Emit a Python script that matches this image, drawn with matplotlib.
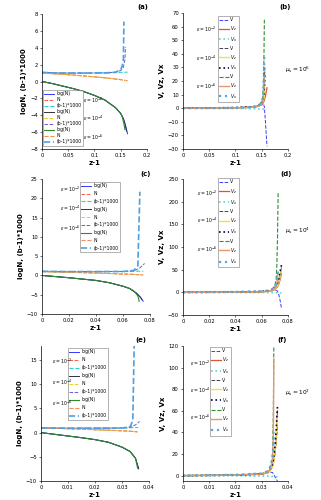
import numpy as np
import matplotlib.pyplot as plt

W, H = 321, 500

# ---------------- data ----------------
eps_labels = ['$\\epsilon=10^{-2}$', '$\\epsilon=10^{-4}$', '$\\epsilon=10^{-6}$']
mu_labels = ['$\\mu_s=10^6$', '$\\mu_s=10^4$', '$\\mu_s=10^2$']

# panel (a)
a_z = [[0, 0.02, 0.04, 0.06, 0.08, 0.10, 0.12, 0.14, 0.15, 0.155, 0.16, 0.163],
       [0, 0.02, 0.04, 0.06, 0.08, 0.10, 0.12, 0.14, 0.15, 0.155, 0.158, 0.161],
       [0, 0.02, 0.04, 0.06, 0.08, 0.10, 0.12, 0.14, 0.15, 0.153, 0.156, 0.158]]
a_logN = [[0, -0.25, -0.55, -0.85, -1.2, -1.65, -2.2, -3.1, -3.8, -4.4, -5.4, -6.2],
          [0, -0.25, -0.55, -0.85, -1.2, -1.65, -2.2, -3.1, -3.8, -4.4, -5.0, -5.9],
          [0, -0.25, -0.55, -0.85, -1.2, -1.65, -2.2, -3.1, -3.8, -4.2, -5.0, -5.7]]
a_N = [[1.0, 0.93, 0.85, 0.76, 0.66, 0.55, 0.43, 0.3, 0.22, 0.17, 0.12, 0.08],
       [1.0, 0.93, 0.85, 0.76, 0.66, 0.55, 0.43, 0.3, 0.22, 0.17, 0.13, 0.09],
       [1.0, 0.93, 0.85, 0.76, 0.66, 0.55, 0.43, 0.3, 0.22, 0.18, 0.14, 0.11]]
a_bz = [[0, 0.02, 0.04, 0.08, 0.12, 0.14, 0.15, 0.155, 0.16, 0.163],
        [0, 0.02, 0.04, 0.08, 0.12, 0.14, 0.15, 0.155, 0.158, 0.159],
        [0, 0.02, 0.04, 0.08, 0.12, 0.14, 0.15, 0.153, 0.155, 0.156]]
a_b = [[1.08, 1.03, 1.0, 1.0, 1.02, 1.05, 1.08, 1.1, 1.1, 1.1],
       [1.08, 1.03, 1.0, 1.0, 1.02, 1.1, 1.3, 1.7, 2.6, 4.1],
       [1.08, 1.03, 1.0, 1.0, 1.02, 1.1, 1.4, 1.9, 2.6, 7.1]]

# panel (c)
c_z = [[0, 0.01, 0.02, 0.03, 0.04, 0.05, 0.06, 0.065, 0.07, 0.073, 0.075],
       [0, 0.01, 0.02, 0.03, 0.04, 0.05, 0.06, 0.065, 0.07, 0.073, 0.074],
       [0, 0.01, 0.02, 0.03, 0.04, 0.05, 0.06, 0.065, 0.068, 0.071, 0.072]]
c_logN = [[0, -0.3, -0.6, -0.95, -1.3, -1.9, -2.8, -3.4, -4.6, -5.7, -6.7],
          [0, -0.3, -0.6, -0.95, -1.3, -1.9, -2.8, -3.4, -4.6, -5.7, -6.3],
          [0, -0.3, -0.6, -0.95, -1.3, -1.9, -2.8, -3.4, -4.0, -5.3, -6.7]]
c_N = [[1.0, 0.9, 0.82, 0.72, 0.62, 0.5, 0.37, 0.3, 0.22, 0.16, 0.12],
       [1.0, 0.9, 0.82, 0.72, 0.62, 0.5, 0.37, 0.3, 0.22, 0.17, 0.13],
       [1.0, 0.9, 0.82, 0.72, 0.62, 0.5, 0.37, 0.3, 0.26, 0.2, 0.16]]
c_bz = [[0, 0.02, 0.04, 0.06, 0.068, 0.072, 0.075],
        [0, 0.02, 0.04, 0.06, 0.068, 0.072, 0.076],
        [0, 0.02, 0.04, 0.06, 0.068, 0.071, 0.0725]]
c_b = [[1.05, 1.0, 1.0, 1.02, 1.05, 1.1, 1.1],
       [1.05, 1.0, 1.0, 1.02, 1.2, 1.8, 3.1],
       [1.05, 1.0, 1.0, 1.02, 1.3, 2.5, 21.7]]

# panel (e)
e_z = [[0, 0.005, 0.01, 0.015, 0.02, 0.025, 0.03, 0.033, 0.035, 0.036],
       [0, 0.005, 0.01, 0.015, 0.02, 0.025, 0.03, 0.033, 0.035, 0.0362],
       [0, 0.005, 0.01, 0.015, 0.02, 0.025, 0.03, 0.033, 0.035, 0.0358]]
e_logN = [[0, -0.35, -0.7, -1.05, -1.45, -2.0, -3.0, -3.9, -5.3, -7.2],
          [0, -0.35, -0.7, -1.05, -1.45, -2.0, -3.0, -3.9, -5.3, -7.5],
          [0, -0.35, -0.7, -1.05, -1.45, -2.0, -3.0, -3.9, -5.3, -7.4]]
e_N = [[1.0, 0.9, 0.8, 0.7, 0.6, 0.5, 0.37, 0.28, 0.2, 0.14],
       [1.0, 0.9, 0.8, 0.7, 0.6, 0.5, 0.37, 0.28, 0.2, 0.13],
       [1.0, 0.9, 0.8, 0.7, 0.6, 0.5, 0.37, 0.28, 0.2, 0.15]]
e_bz = [[0, 0.01, 0.02, 0.03, 0.033, 0.035, 0.036],
        [0, 0.01, 0.02, 0.03, 0.033, 0.035, 0.0365],
        [0, 0.01, 0.02, 0.03, 0.033, 0.034, 0.0345]]
e_b = [[0.95, 0.92, 0.92, 0.95, 1.0, 1.05, 1.05],
       [0.95, 0.92, 0.92, 0.95, 1.1, 1.6, 2.3],
       [0.95, 0.92, 0.92, 0.95, 1.2, 2.5, 18.0]]

# panel (b)
b_z = [[0, 0.05, 0.1, 0.13, 0.14, 0.145, 0.15, 0.153, 0.155, 0.157, 0.16],
       [0, 0.05, 0.1, 0.13, 0.14, 0.145, 0.15, 0.152, 0.154, 0.155, 0.156],
       [0, 0.05, 0.1, 0.13, 0.14, 0.145, 0.15, 0.152, 0.153, 0.154, 0.155]]
b_V = [[0, 0.1, 0.3, 0.8, 1.2, 1.8, 2.5, 3.5, 1.0, -10.0, -28.0],
       [0, 0.1, 0.3, 0.8, 1.3, 2.0, 3.5, 6.0, 11.0, 18.0, 30.0],
       [0, 0.1, 0.3, 0.8, 1.4, 2.3, 5.0, 9.0, 16.0, 32.0, 65.0]]
b_Vz = [[0, 0.1, 0.3, 0.7, 1.1, 1.6, 2.8, 4.0, 6.0, 9.0, 15.0],
        [0, 0.1, 0.3, 0.7, 1.2, 1.8, 3.2, 4.5, 7.0, 12.0, 20.0],
        [0, 0.1, 0.3, 0.7, 1.2, 1.9, 3.5, 5.5, 9.0, 15.0, 24.0]]
b_Vx = [[0, -0.1, -0.2, -0.3, -0.4, -0.5, -0.6, -0.7, -0.8, -0.9, -1.0],
        [0, 0.2, 0.5, 1.0, 1.5, 2.2, 3.8, 6.0, 10.0, 15.0, 25.0],
        [0, 0.05, 0.2, 0.6, 1.2, 2.0, 4.0, 7.0, 12.0, 22.0, 40.0]]

# panel (d)
d_z = [[0, 0.02, 0.04, 0.06, 0.065, 0.068, 0.07, 0.072, 0.073, 0.074, 0.075],
       [0, 0.02, 0.04, 0.06, 0.065, 0.068, 0.07, 0.072, 0.073, 0.074, 0.075],
       [0, 0.02, 0.04, 0.06, 0.065, 0.068, 0.07, 0.071, 0.0715, 0.072, 0.0725]]
d_V = [[0, 0.2, 0.5, 1.5, 2.5, 4.0, 5.0, 3.0, -5.0, -18.0, -35.0],
       [0, 0.2, 0.5, 1.5, 3.0, 5.0, 9.0, 16.0, 25.0, 38.0, 55.0],
       [0, 0.2, 0.5, 1.5, 3.5, 7.0, 15.0, 30.0, 60.0, 120.0, 220.0]]
d_Vz = [[0, 0.2, 0.5, 1.2, 2.0, 3.5, 6.0, 12.0, 18.0, 28.0, 42.0],
        [0, 0.2, 0.5, 1.2, 2.2, 4.0, 7.0, 14.0, 22.0, 34.0, 50.0],
        [0, 0.2, 0.5, 1.2, 2.5, 4.5, 9.0, 14.0, 20.0, 30.0, 45.0]]
d_Vx = [[0, -0.1, -0.2, -0.4, -0.5, -0.6, -0.8, -1.0, -1.1, -1.2, -1.3],
        [0, 0.2, 0.6, 2.0, 3.5, 6.0, 10.0, 20.0, 30.0, 45.0, 60.0],
        [0, 0.3, 1.0, 2.5, 4.0, 7.0, 12.0, 18.0, 25.0, 35.0, 50.0]]

# panel (f)
f_z = [[0, 0.01, 0.02, 0.03, 0.032, 0.033, 0.034, 0.0345, 0.035, 0.0355, 0.036],
       [0, 0.01, 0.02, 0.03, 0.032, 0.033, 0.034, 0.0345, 0.035, 0.0355, 0.036],
       [0, 0.01, 0.02, 0.03, 0.032, 0.033, 0.034, 0.0342, 0.0344, 0.0345, 0.0346]]
f_V = [[0, 0.2, 0.5, 1.5, 2.5, 3.0, 3.0, 1.5, -1.0, -3.0, -5.0],
       [0, 0.2, 0.5, 1.5, 3.0, 5.0, 9.0, 14.0, 20.0, 30.0, 45.0],
       [0, 0.2, 0.5, 1.5, 3.5, 6.0, 15.0, 30.0, 55.0, 85.0, 120.0]]
f_Vz = [[0, 0.2, 0.5, 1.3, 2.5, 4.0, 8.0, 12.0, 20.0, 35.0, 60.0],
        [0, 0.2, 0.5, 1.3, 2.5, 4.0, 8.0, 12.0, 20.0, 35.0, 55.0],
        [0, 0.2, 0.5, 1.3, 2.8, 5.0, 12.0, 20.0, 35.0, 60.0, 108.0]]
f_Vx = [[0, -0.1, -0.2, -0.4, -0.5, -0.6, -0.8, -0.9, -1.0, -1.1, -1.2],
        [0, 0.2, 0.5, 1.5, 3.0, 5.0, 10.0, 16.0, 26.0, 42.0, 65.0],
        [0, 0.3, 0.8, 2.0, 4.0, 7.0, 15.0, 20.0, 27.0, 33.0, 40.0]]

# ---------------- styles ----------------
log_styles = [
    [('-', '#3535ff', 0.7), ('--', '#ff5a3c', 0.7), ('--', '#30d0c8', 0.8)],
    [('-', '#303040', 0.7), ('--', '#e8d020', 0.7), ('--', '#6a60c0', 0.7)],
    [('-', '#2e8b2e', 0.8), ('--', '#f0905a', 0.8), ('--', '#4fa0e0', 1.2)],
]
v_styles = [
    [('--', '#3b3bff', 0.7), ('-', '#d9543a', 0.9), (':', '#5fd3d3', 1.2)],
    [('--', '#404050', 0.7), ('-', '#f0e040', 1.0), (':', '#000040', 1.2)],
    [('--', '#2f8f2f', 0.8), ('-', '#e8956a', 1.0), (':', '#5aa8e0', 1.6)],
]

fs_tick = 3.8
fs_lab = 5.0


def px_ax(fig, l, t, r, b):
    return fig.add_axes([l / W, 1 - b / H, (r - l) / W, (b - t) / H])


def style_axis(ax, xlim, ylim, xticks, yticks, xtl, ylabel):
    ax.set_xlim(xlim)
    ax.set_ylim(ylim)
    ax.set_xticks(xticks)
    ax.set_xticklabels(xtl)
    ax.set_yticks(yticks)
    for s in ['top', 'right']:
        ax.spines[s].set_visible(False)
    for s in ['left', 'bottom']:
        ax.spines[s].set_linewidth(0.5)
    ax.tick_params(labelsize=fs_tick, length=1.5, width=0.4, pad=1.5, direction='out')
    ax.set_xlabel('z-1', fontsize=fs_lab, fontweight='bold', labelpad=1)
    ax.set_ylabel(ylabel, fontsize=fs_lab, fontweight='bold', labelpad=2)


fig = plt.figure(figsize=(W / 100, H / 100), dpi=100)

log_panels = [
    (a_z, a_logN, a_N, a_bz, a_b, (42, 14, 147, 149), (0, 0.2), (-8, 8),
     [0, 0.05, 0.1, 0.15, 0.2], ['0', '0.05', '0.1', '0.15', '0.2'], range(-8, 9, 2), '(a)', (143, 7),
     (43, 90), 5.6, (83, [100, 118, 137])),
    (c_z, c_logN, c_N, c_bz, c_b, (42, 179, 150, 314), (0, 0.08), (-10, 25),
     [0, 0.02, 0.04, 0.06, 0.08], ['0', '0.02', '0.04', '0.06', '0.08'], range(-10, 26, 5), '(c)', (146, 174),
     (80, 182), 7.4, (60, [189, 208, 228])),
    (e_z, e_logN, e_N, e_bz, e_b, (41, 346, 149, 481), (0, 0.04), (-10, 17.9),
     [0, 0.01, 0.02, 0.03, 0.04], ['0', '0.01', '0.02', '0.03', '0.04'], range(-10, 16, 5), '(e)', (141, 340),
     (68, 348), 7.6, (52, [361, 382, 403])),
]

for (zs, logN, N, bz, bb, box, xlim, ylim, xt, xtl, yt, lab, labpos, legpos, rowh, epspos) in log_panels:
    ax = px_ax(fig, *box)
    handles = []
    for g in range(3):
        st = log_styles[g]
        h1, = ax.plot(zs[g], logN[g], st[0][0], color=st[0][1], lw=st[0][2], label='log(N)')
        h2, = ax.plot(zs[g], N[g], st[1][0], color=st[1][1], lw=st[1][2], label='N')
        h3, = ax.plot(bz[g], bb[g], st[2][0], color=st[2][1], lw=st[2][2], label='(b-1)*1000')
        handles += [h1, h2, h3]
    style_axis(ax, xlim, ylim, xt, yt, xtl, 'logN, (b-1)*1000')
    leg = ax.legend(handles=handles, loc='upper left', fontsize=3.3,
                    bbox_to_anchor=(legpos[0] / W, 1 - legpos[1] / H), bbox_transform=fig.transFigure,
                    frameon=True, fancybox=False, handlelength=2.2, handletextpad=0.4,
                    labelspacing=(rowh - 4.6) / 4.6, borderpad=0.3, borderaxespad=0)
    leg.get_frame().set_linewidth(0.4)
    leg.get_frame().set_edgecolor('#555555')
    fig.text(labpos[0] / W, 1 - labpos[1] / H, lab, fontsize=fs_lab, fontweight='bold', ha='center', va='center')
    for k in range(3):
        fig.text(epspos[0] / W, 1 - epspos[1][k] / H, eps_labels[k], fontsize=3.3, ha='left', va='center')

v_panels = [
    (b_z, b_V, b_Vz, b_Vx, (183, 13, 288, 149), (0, 0.2), (-30, 70),
     [0, 0.05, 0.1, 0.15, 0.2], ['0', '0.05', '0.1', '0.15', '0.2'], range(-30, 71, 10), '(b)', (285, 7),
     (218, 16), 6.5, (196, [29, 58, 86]), mu_labels[0], (298, 70)),
    (d_z, d_V, d_Vz, d_Vx, (183, 179, 288, 315), (0, 0.08), (-50, 250),
     [0, 0.02, 0.04, 0.06, 0.08], ['0', '0.02', '0.04', '0.06', '0.08'], range(-50, 251, 50), '(d)', (286, 174),
     (218, 178), 6.9, (197, [193, 220, 249]), mu_labels[1], (298, 231)),
    (f_z, f_V, f_Vz, f_Vx, (183, 346, 288, 481), (0, 0.04), (-5, 120),
     [0, 0.01, 0.02, 0.03, 0.04], ['0', '0.01', '0.02', '0.03', '0.04'], range(0, 121, 20), '(f)', (282, 340),
     (210, 347), 6.8, (190, [363, 390, 417]), mu_labels[2], (298, 393)),
]

for (zs, V, Vz, Vx, box, xlim, ylim, xt, xtl, yt, lab, labpos, legpos, rowh, epspos, mu, mupos) in v_panels:
    ax = px_ax(fig, *box)
    handles = []
    for g in range(3):
        st = v_styles[g]
        h1, = ax.plot(zs[g], V[g], st[0][0], color=st[0][1], lw=st[0][2], label='V')
        h2, = ax.plot(zs[g], Vz[g], st[1][0], color=st[1][1], lw=st[1][2], label='$V_z$')
        h3, = ax.plot(zs[g], Vx[g], st[2][0], color=st[2][1], lw=st[2][2], label='$V_x$')
        handles += [h1, h2, h3]
    style_axis(ax, xlim, ylim, xt, yt, xtl, 'V, Vz, Vx')
    leg = ax.legend(handles=handles, loc='upper left', fontsize=3.3,
                    bbox_to_anchor=(legpos[0] / W, 1 - legpos[1] / H), bbox_transform=fig.transFigure,
                    frameon=True, fancybox=False, handlelength=2.0, handletextpad=0.4,
                    labelspacing=(rowh - 4.6) / 4.6, borderpad=0.3, borderaxespad=0)
    leg.get_frame().set_linewidth(0.4)
    leg.get_frame().set_edgecolor('#555555')
    fig.text(labpos[0] / W, 1 - labpos[1] / H, lab, fontsize=fs_lab, fontweight='bold', ha='center', va='center')
    fig.text(mupos[0] / W, 1 - mupos[1] / H, mu, fontsize=4.2, ha='center', va='center')
    for k in range(3):
        fig.text(epspos[0] / W, 1 - epspos[1][k] / H, eps_labels[k], fontsize=3.3, ha='left', va='center')

fig.savefig('out.png', dpi=100)
